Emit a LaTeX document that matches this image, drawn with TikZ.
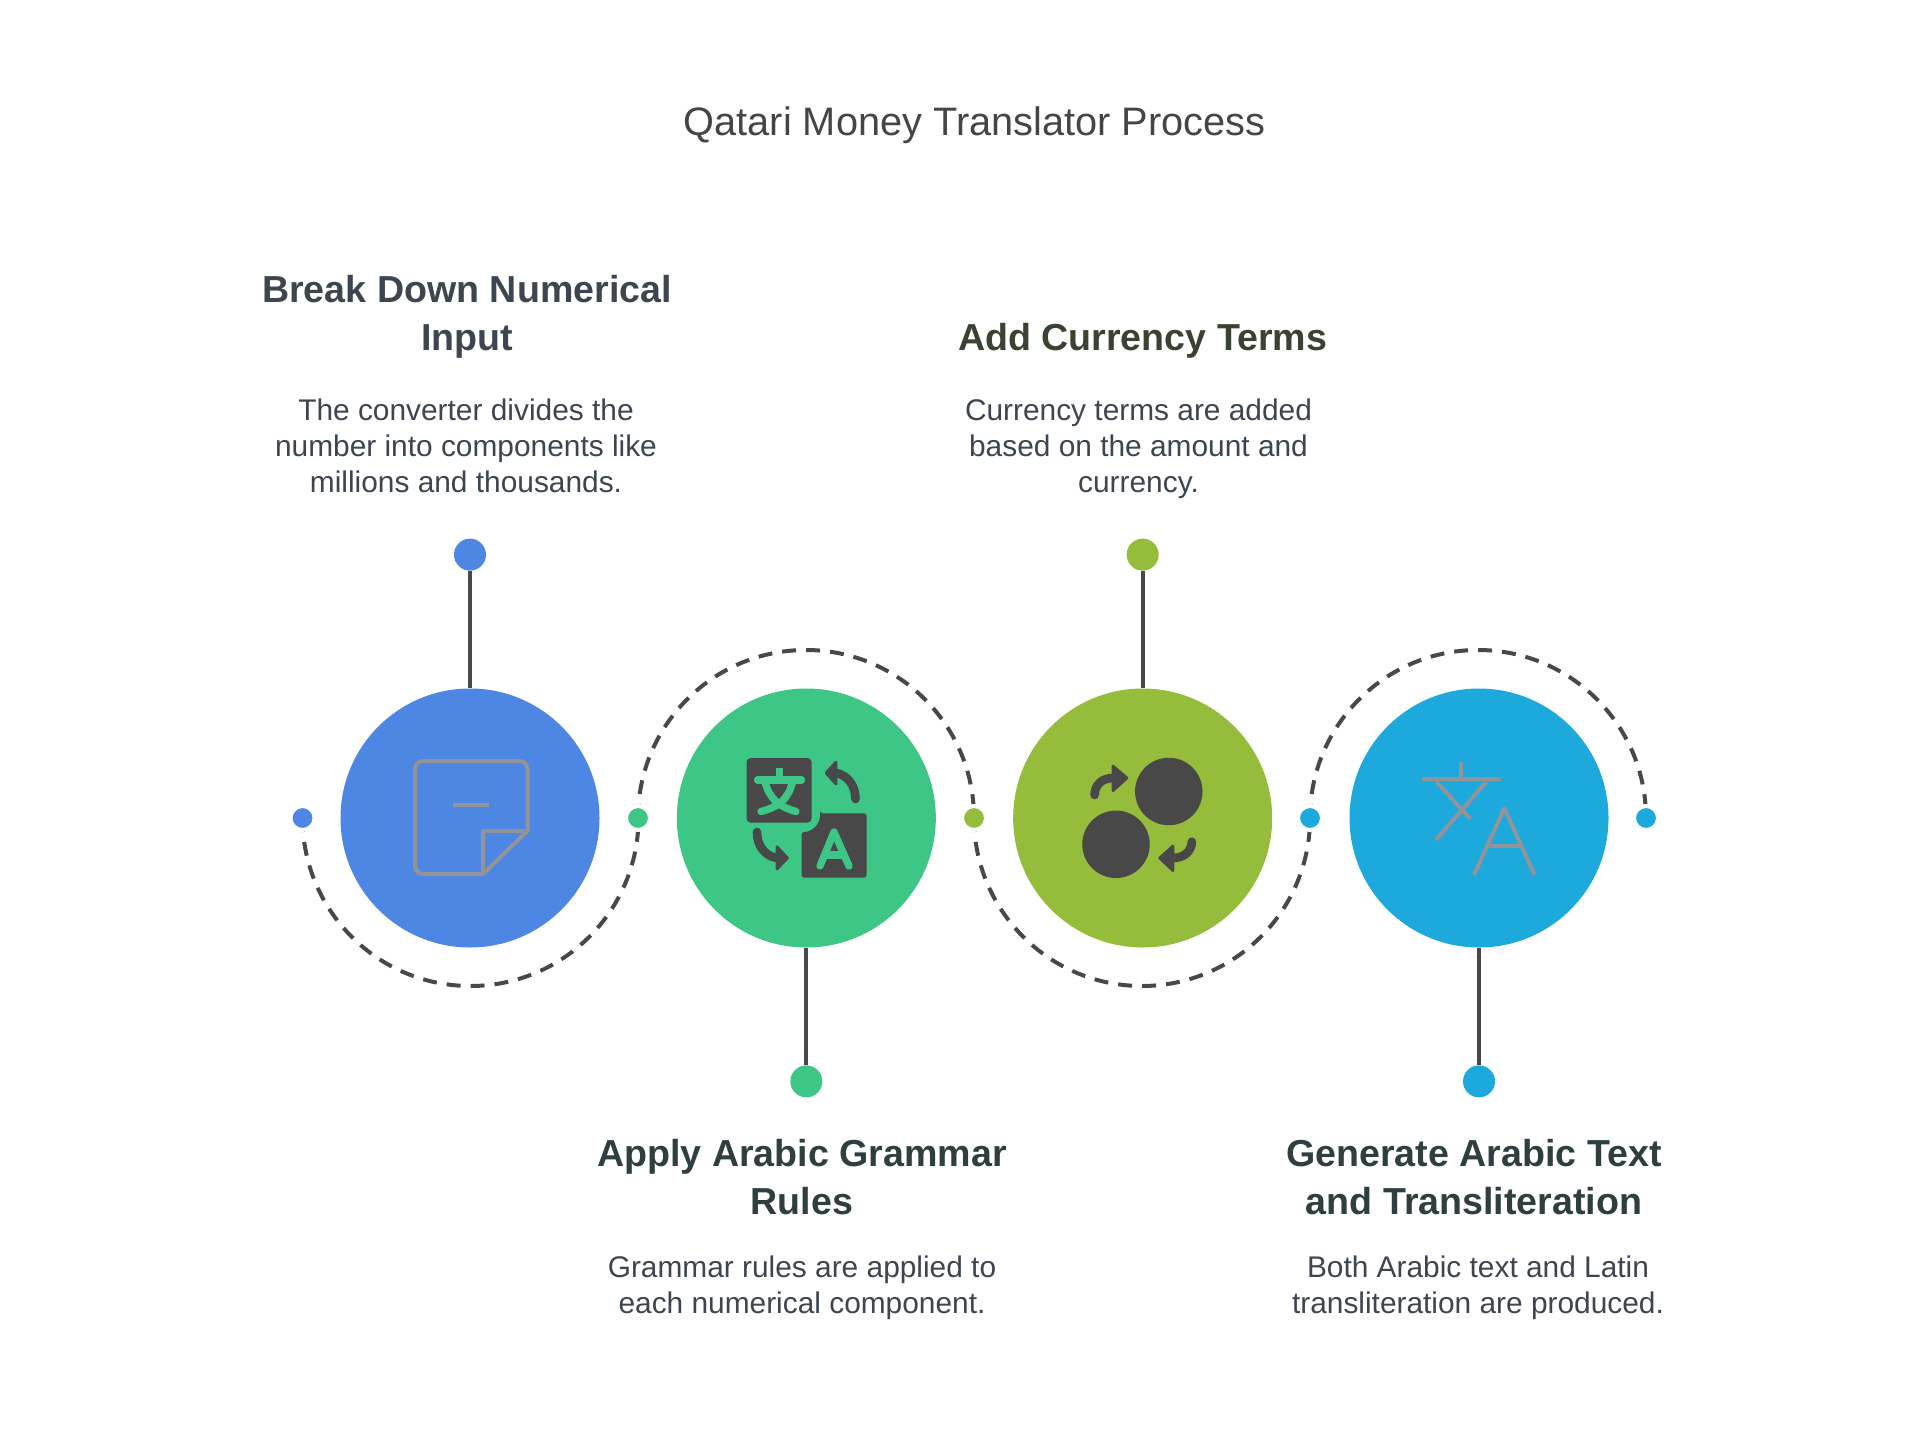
\documentclass[tikz,border=0pt]{standalone}
\usepackage{fontspec}
\setmainfont{Liberation Sans}
\usetikzlibrary{positioning,backgrounds}
\definecolor{qblue}{HTML}{4E86E4}
\definecolor{qgreen}{HTML}{3EC686}
\definecolor{qolive}{HTML}{95BC3B}
\definecolor{qsky}{HTML}{1DA9DC}
\definecolor{qdark}{HTML}{484848}
\definecolor{qicon}{HTML}{93939A}
\definecolor{qtitle}{HTML}{454545}
\definecolor{qbody}{HTML}{3D4550}
\definecolor{qolivetext}{HTML}{3A4232}
\definecolor{qslate}{HTML}{2F3F3F}
\tikzset{
  bigc/.style={circle,inner sep=0,minimum size=194.25pt},
  dotc/.style={circle,inner sep=0,minimum size=18pt,draw=white,line width=3pt},
  pinc/.style={circle,inner sep=0,minimum size=24pt},
  stem/.style={qdark,line width=3pt},
  dashc/.style={qdark,line width=3pt,dash pattern=on 10.5pt off 7.5pt},
  headc/.style={align=center,font=\fontsize{28.2}{36}\selectfont\bfseries},
  bodyc/.style={align=center,text=qbody,font=\fontsize{22.4}{27}\selectfont},
  iconl/.style={qicon,line width=3pt},
  arrowl/.style={line width=6.5pt,line cap=round},
}
\begin{document}
\begin{tikzpicture}[x=.75pt,y=-.75pt]
\useasboundingbox (0,0) rectangle (1913,1444);
\node[text=qtitle,font=\fontsize{29.8}{36}\selectfont] (title) at (974.5,125) {Qatari Money Translator Process};

\node[bigc,fill=qblue] (blue) at (470,818) {};
\node[bigc,fill=qgreen,right=57.6pt of blue] (green) {};
\node[bigc,fill=qolive,right=57.6pt of green] (olive) {};
\node[bigc,fill=qsky,right=57.6pt of olive] (sky) {};

\node[pinc,fill=qblue,above=88pt of blue] (bluepin) {};
\node[pinc,fill=qgreen,below=88pt of green] (greenpin) {};
\node[pinc,fill=qolive,above=88pt of olive] (olivepin) {};
\node[pinc,fill=qsky,below=88pt of sky] (skypin) {};
\draw[stem] (blue) -- (bluepin);
\draw[stem] (green) -- (greenpin);
\draw[stem] (olive) -- (olivepin);
\draw[stem] (sky) -- (skypin);

\node[dotc,fill=qblue] (dota) at (302.5,818) {};
\node[dotc,fill=qgreen] (dotb) at (638,818) {};
\node[dotc,fill=qolive] (dotd) at (974,818) {};
\node[dotc,fill=qsky] (dote) at (1310,818) {};
\node[dotc,fill=qsky] (dotf) at (1646,818) {};
\begin{scope}[on background layer]
\draw[dashc] (dota.center) arc[start angle=180,end angle=360,radius=126pt];
\draw[dashc] (dotb.center) arc[start angle=180,end angle=0,radius=126pt];
\draw[dashc] (dotd.center) arc[start angle=180,end angle=360,radius=126pt];
\draw[dashc] (dote.center) arc[start angle=180,end angle=0,radius=126pt];
\end{scope}

% note
\draw[iconl,rounded corners=6pt] (483,874) -- (415,874) -- (415,761) -- (527.5,761) -- (527.5,831);
\draw[iconl,line join=round] (527.5,831) -- (483,831) -- (483,874) -- cycle;
\draw[iconl] (452.5,805) -- (489,805);

% translate
\fill[qdark,rounded corners=3pt] (746.6,758) rectangle (811.5,822.7);
\fill[qdark,rounded corners=2pt] (820,813.3) -- (866.5,813.3) -- (866.5,877.7) -- (801.6,877.7) -- (801.6,832) .. controls (812,832) and (820,824) .. (820,813.3) -- cycle;
\draw[qgreen,line width=5.5pt,line cap=round] (757.5,780) -- (801.5,780);
\draw[qgreen,line width=5.5pt] (779.5,768) -- (779.5,780);
\draw[qgreen,line width=5.5pt,line cap=round] (765,782) .. controls (770,800) and (780,807) .. (796,811.5);
\draw[qgreen,line width=5.5pt,line cap=round] (792.5,782) .. controls (788,800) and (778,807) .. (761,811.5);
\draw[qgreen,line width=5.5pt,line cap=round,line join=round] (820,866) -- (834,832) -- (849,866);
\draw[qgreen,line width=5.5pt] (824,855) -- (845,855);
\draw[qdark,arrowl] (855.5,799) .. controls (855.5,785) and (847,775) .. (836,773);
\fill[qdark,draw=qdark,line width=2pt,line join=round] (826,773) -- (836,762) -- (836,784) -- cycle;
\draw[qdark,arrowl] (757,832) .. controls (757,846) and (765,856) .. (777,858);
\fill[qdark,draw=qdark,line width=2pt,line join=round] (787.6,858) -- (777,846.7) -- (777,869) -- cycle;

% exchange
\fill[qdark] (1168.8,791.5) circle[radius=25.3pt];
\fill[qdark] (1116,844.3) circle[radius=25.3pt];
\draw[qdark,arrowl] (1094.6,795) .. controls (1094.6,785) and (1102,778) .. (1113,778);
\fill[qdark,draw=qdark,line width=2pt,line join=round] (1127,778) -- (1113,766) -- (1113,790.7) -- cycle;
\draw[qdark,arrowl] (1191.8,841.7) .. controls (1191.8,851) and (1184,858) .. (1173,858);
\fill[qdark,draw=qdark,line width=2pt,line join=round] (1159.6,858) -- (1173,846) -- (1173,870.7) -- cycle;

% language
\draw[iconl] (1461.4,761.7) -- (1461.4,779.3);
\draw[iconl] (1422,779.3) -- (1501.4,779.3);
\draw[iconl] (1436.4,781.7) -- (1470.4,819);
\draw[iconl] (1486.4,781.7) -- (1435.7,840);
\draw[iconl,line join=round] (1473.9,875) -- (1504.3,808.3) -- (1534.6,875);
\draw[iconl] (1484.6,846) -- (1522.1,846);

\node[headc,text=qbody] (breakhead) at (467,317) {Break Down Numerical\\Input};
\node[bodyc] (breakbody) at (466,446) {The converter divides the\\number into components like\\millions and thousands.};
\node[headc,text=qolivetext] (addhead) at (1142.6,341) {Add Currency Terms};
\node[bodyc] (addbody) at (1138.5,448.5) {Currency terms are added\\based on the amount and\\currency.};
\node[headc,text=qslate] (applyhead) at (802,1177) {Apply Arabic Grammar\\Rules};
\node[bodyc] (applybody) at (802,1288) {Grammar rules are applied to\\each numerical component.};
\node[headc,text=qslate] (genhead) at (1474,1177) {Generate Arabic Text\\and Transliteration};
\node[bodyc] (genbody) at (1478,1288) {Both Arabic text and Latin\\transliteration are produced.};
\end{tikzpicture}
\end{document}
